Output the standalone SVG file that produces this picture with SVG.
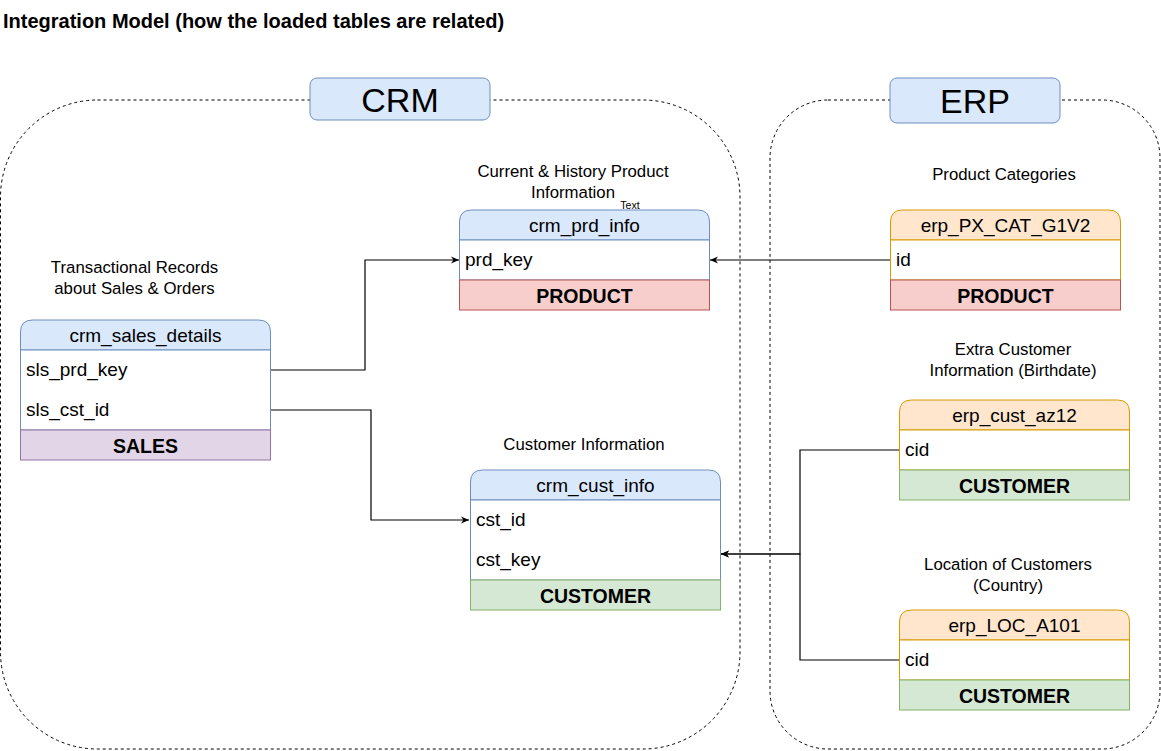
<svg xmlns="http://www.w3.org/2000/svg" width="1161" height="751" viewBox="0 0 1161 751">
<style>
text{font-family:"Liberation Sans",Arial,sans-serif;fill:#000}
.lbl{font-size:16.8px;text-anchor:middle}
.hd{font-size:19px;text-anchor:middle}
.row{font-size:19px}
.ft{font-size:19.5px;font-weight:bold;text-anchor:middle}
.cont{fill:none;stroke:#000;stroke-width:1;stroke-dasharray:3 3}
.tag{fill:#dae8fc;stroke:#6c8ebf;stroke-width:1}
.tagt{font-size:34px;text-anchor:middle}
.bh{fill:#dae8fc;stroke:#6c8ebf}
.bb{fill:#fff;stroke:#6c8ebf}
.oh{fill:#ffe6cc;stroke:#d79b00}
.ob{fill:#fff;stroke:#d79b00}
.fr{fill:#f8cecc;stroke:#b85450}
.fg{fill:#d5e8d4;stroke:#82b366}
.fp{fill:#e1d5e7;stroke:#9673a6}
.edge{fill:none;stroke:#000;stroke-width:1.2}
</style>
<defs>
<marker id="arr" viewBox="0 0 10 10" refX="10" refY="5" markerWidth="8" markerHeight="8" orient="auto" markerUnits="userSpaceOnUse">
<path d="M0,0.5 L10,5 L0,9.5 L3,5 z" fill="#000"/>
</marker>
</defs>
<rect width="1161" height="751" fill="#fff"/>
<text x="3" y="28" style="font-size:20px;font-weight:bold">Integration Model (how the loaded tables are related)</text>

<g id="crm-container">
<rect class="cont" x="0.5" y="100" width="739.5" height="649" rx="97" ry="97"/>
<rect class="tag" x="310" y="78" width="180" height="42" rx="7"/>
<text class="tagt" x="400" y="111.5">CRM</text>
</g>
<g id="erp-container">
<rect class="cont" x="770" y="100" width="390" height="649" rx="58" ry="58"/>
<rect class="tag" x="890" y="78" width="170" height="45" rx="7"/>
<text class="tagt" x="975" y="113">ERP</text>
</g>

<g id="connectors">
<polyline class="edge" points="270,370 365,370 365,260 459,260" marker-end="url(#arr)"/>
<polyline class="edge" points="890,260 710,260" marker-end="url(#arr)"/>
<polyline class="edge" points="270,410 371,410 371,520 469,520" marker-end="url(#arr)"/>
<polyline class="edge" points="900,450 800,450 800,554 721,554" marker-end="url(#arr)"/>
<polyline class="edge" points="900,660 800,660 800,554 721,554" marker-end="url(#arr)"/>
</g>

<g id="crm_prd_info">
<text class="lbl" x="573" y="177">Current &amp; History Product</text>
<text class="lbl" x="573" y="198">Information</text>
<text x="630" y="208.5" style="font-size:10.6px;text-anchor:middle">Text</text>
<path class="bh" d="M459.5,240 V222 Q459.5,210 471.5,210 H697.5 Q709.5,210 709.5,222 V240 Z"/>
<rect class="bb" x="459.5" y="240" width="250" height="40"/>
<rect class="fr" x="459.5" y="280" width="250" height="30"/>
<text class="hd" x="584.5" y="231.5">crm_prd_info</text>
<text class="row" x="465" y="266">prd_key</text>
<text class="ft" x="584.5" y="303">PRODUCT</text>
</g>

<g id="erp_PX_CAT_G1V2">
<text class="lbl" x="1004" y="180">Product Categories</text>
<path class="oh" d="M890.5,240 V222 Q890.5,210 902.5,210 H1108.5 Q1120.5,210 1120.5,222 V240 Z"/>
<rect class="ob" x="890.5" y="240" width="230" height="40"/>
<rect class="fr" x="890.5" y="280" width="230" height="30"/>
<text class="hd" x="1005.5" y="231.5">erp_PX_CAT_G1V2</text>
<text class="row" x="896" y="266">id</text>
<text class="ft" x="1005.5" y="303">PRODUCT</text>
</g>

<g id="crm_sales_details">
<text class="lbl" x="134.5" y="273">Transactional Records</text>
<text class="lbl" x="134.5" y="294">about Sales &amp; Orders</text>
<path class="bh" d="M20.5,350 V332 Q20.5,320 32.5,320 H258.5 Q270.5,320 270.5,332 V350 Z"/>
<rect class="bb" x="20.5" y="350" width="250" height="80"/>
<rect class="fp" x="20.5" y="430" width="250" height="30"/>
<text class="hd" x="145.5" y="341.5">crm_sales_details</text>
<text class="row" x="26" y="376">sls_prd_key</text>
<text class="row" x="26" y="416">sls_cst_id</text>
<text class="ft" x="145.5" y="453">SALES</text>
</g>

<g id="crm_cust_info">
<text class="lbl" x="584" y="450">Customer Information</text>
<path class="bh" d="M470.5,500 V482 Q470.5,470 482.5,470 H708.5 Q720.5,470 720.5,482 V500 Z"/>
<rect class="bb" x="470.5" y="500" width="250" height="80"/>
<rect class="fg" x="470.5" y="580" width="250" height="30"/>
<text class="hd" x="595.5" y="491.5">crm_cust_info</text>
<text class="row" x="476" y="526">cst_id</text>
<text class="row" x="476" y="566">cst_key</text>
<text class="ft" x="595.5" y="603">CUSTOMER</text>
</g>

<g id="erp_cust_az12">
<text class="lbl" x="1013" y="355">Extra Customer</text>
<text class="lbl" x="1013" y="376">Information (Birthdate)</text>
<path class="oh" d="M899.5,430 V412 Q899.5,400 911.5,400 H1117.5 Q1129.5,400 1129.5,412 V430 Z"/>
<rect class="ob" x="899.5" y="430" width="230" height="40"/>
<rect class="fg" x="899.5" y="470" width="230" height="30"/>
<text class="hd" x="1014.5" y="421.5">erp_cust_az12</text>
<text class="row" x="905" y="456">cid</text>
<text class="ft" x="1014.5" y="493">CUSTOMER</text>
</g>

<g id="erp_LOC_A101">
<text class="lbl" x="1008" y="570">Location of Customers</text>
<text class="lbl" x="1008" y="591">(Country)</text>
<path class="oh" d="M899.5,640 V622 Q899.5,610 911.5,610 H1117.5 Q1129.5,610 1129.5,622 V640 Z"/>
<rect class="ob" x="899.5" y="640" width="230" height="40"/>
<rect class="fg" x="899.5" y="680" width="230" height="30"/>
<text class="hd" x="1014.5" y="631.5">erp_LOC_A101</text>
<text class="row" x="905" y="666">cid</text>
<text class="ft" x="1014.5" y="703">CUSTOMER</text>
</g>
</svg>
